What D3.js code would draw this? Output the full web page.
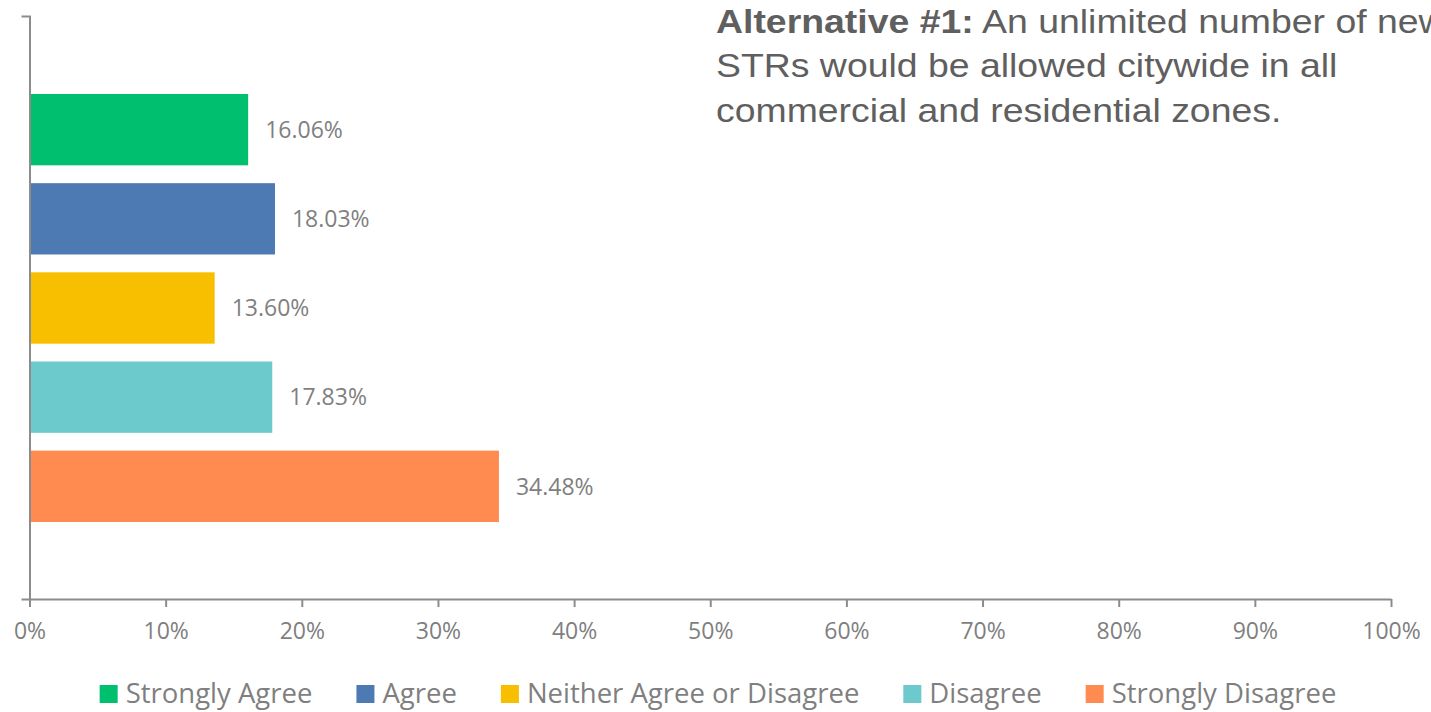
<!DOCTYPE html>
<html>
<head>
<meta charset="utf-8">
<script src="https://cdn.jsdelivr.net/npm/d3@7"></script>
<style>
  body { margin: 0; background: #fff; }
  svg { display: block; }
</style>
</head>
<body>
<div id="app"></div>
<script>
// survey answers, top to bottom
const categories = ['Strongly Agree', 'Agree', 'Neither Agree or Disagree', 'Disagree', 'Strongly Disagree'];
const values = [16.06, 18.03, 13.60, 17.83, 34.48];
const colors = ['#00bf6f', '#4e7ab4', '#f8be00', '#6cc9cc', '#ff8b50'];
const xTicks = [0, 10, 20, 30, 40, 50, 60, 70, 80, 90, 100];
const titleBold = 'Alternative #1:';
const titleLines = [' An unlimited number of new', 'STRs would be allowed citywide in all', 'commercial and residential zones.'];

const width = 1431, height = 712;
const axisColor = '#8c8c8c';
const textColor = '#7f7f7f';

const svg = d3.select('#app')
  .append('svg')
  .attr('width', width)
  .attr('height', height);

const x = d3.scaleLinear()
  .domain([0, 100])
  .range([29.5, 1391]);

const y = d3.scaleBand()
  .domain(categories)
  .range([94, 522])
  .paddingInner(0.2)
  .paddingOuter(0);

// bars
svg.selectAll('rect.bar')
  .data(values)
  .enter()
  .append('rect')
  .attr('class', 'bar')
  .attr('x', x(0))
  .attr('y', (d, i) => y(categories[i]))
  .attr('width', d => x(d) - x(0))
  .attr('height', y.bandwidth())
  .style('fill', (d, i) => colors[i]);

// value labels
svg.selectAll('text.val')
  .data(values)
  .enter()
  .append('text')
  .attr('class', 'val')
  .attr('x', d => x(d) + 17)
  .attr('y', (d, i) => y(categories[i]) + y.bandwidth() / 2)
  .attr('dy', '0.36em')
  .style('font-family', '"Open Sans", sans-serif')
  .style('font-size', '23px')
  .style('fill', textColor)
  .text(d => d.toFixed(2) + '%');

// x axis
const xAxis = svg.append('g')
  .attr('transform', 'translate(0,599)')
  .call(d3.axisBottom(x)
    .tickValues(xTicks)
    .tickSize(8)
    .tickSizeOuter(0)
    .tickPadding(16)
    .tickFormat(d => d + '%'));
xAxis.select('.domain').attr('stroke', axisColor).attr('stroke-width', 2);
xAxis.selectAll('.tick line').attr('stroke', axisColor).attr('stroke-width', 2);
xAxis.selectAll('.tick text')
  .style('font-family', '"Open Sans", sans-serif')
  .style('font-size', '23px')
  .style('fill', textColor);

// y axis: one category, so only the outer ticks show
const yAxisScale = d3.scaleLinear().domain([0, 1]).range([16, 599]);
const yAxis = svg.append('g')
  .attr('transform', 'translate(' + x(0) + ',0)')
  .call(d3.axisLeft(yAxisScale).tickValues([]).tickSizeOuter(8));
yAxis.select('.domain').attr('stroke', axisColor).attr('stroke-width', 2).attr('fill', 'none');

// title (the original is a bit stretched sideways and runs off the right edge)
const title = svg.append('text')
  .attr('transform', 'translate(716,0) scale(1.1,1)')
  .attr('x', 0)
  .attr('y', 33)
  .style('font-family', '"Liberation Sans", Arial, sans-serif')
  .style('font-size', '34px')
  .style('fill', '#5f5f5f');
title.append('tspan')
  .style('font-weight', 'bold')
  .text(titleBold);
title.append('tspan').text(titleLines[0]);
titleLines.slice(1).forEach((t, i) => {
  title.append('tspan')
    .attr('x', 0)
    .attr('y', 33 + 44.5 * (i + 1))
    .text(t);
});

// legend
const legend = svg.append('g');
const items = legend.selectAll('g')
  .data(categories)
  .enter()
  .append('g');
items.append('rect')
  .attr('width', 18)
  .attr('height', 18)
  .attr('y', 685)
  .style('fill', (d, i) => colors[i]);
items.append('text')
  .attr('x', 26)
  .attr('y', 703)
  .style('font-family', '"Open Sans", sans-serif')
  .style('font-size', '27.5px')
  .style('fill', textColor)
  .text(d => d);

let pos = 0;
items.each(function () {
  const w = this.querySelector('text').getComputedTextLength();
  d3.select(this).attr('transform', 'translate(' + pos + ',0)');
  pos += 26 + w + 44;
});
const total = pos - 44;
legend.attr('transform', 'translate(' + (718 - total / 2) + ',0)');
</script>
</body>
</html>
